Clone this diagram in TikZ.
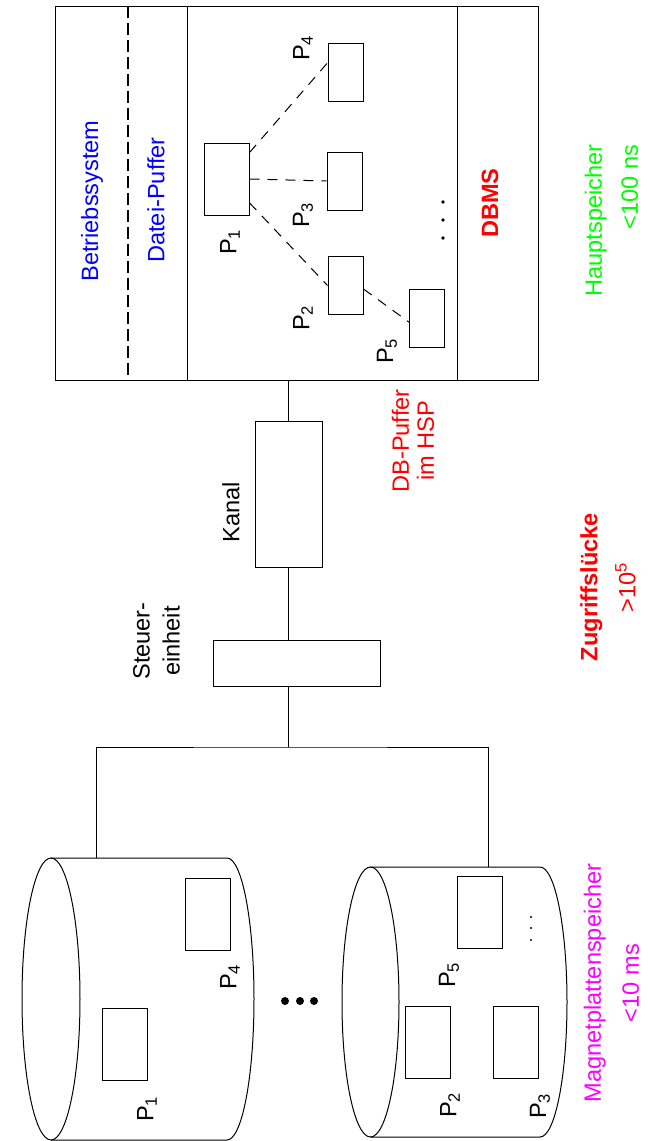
\documentclass[tikz,border=0pt]{standalone}
\usepackage{fontspec}
\setmainfont{Liberation Sans}
\definecolor{hspgreen}{RGB}{0,255,0}
\definecolor{mpsmagenta}{RGB}{255,0,255}

\begin{document}
\begin{tikzpicture}[x=0.5pt,y=-0.5pt,line width=0.5pt]
  \tikzstyle{page}=[draw,inner sep=0pt,minimum width=17.5pt,minimum height=29pt]
  \tikzstyle{bigpage}=[page,minimum width=22.5pt,minimum height=36pt]
  \tikzstyle{lbl}=[rotate=90,inner sep=0pt,font=\fontsize{11.8}{14}\selectfont]
  \tikzstyle{link}=[dash pattern=on 5pt off 4pt]
  \useasboundingbox (0,0) rectangle (648,1141);

  % Hauptspeicher
  \node[draw,inner sep=0pt,minimum width=241.5pt,minimum height=187pt] (hsp) at (296.5,193) {};
  \draw[dash pattern=on 6pt off 2.5pt,line width=0.8pt] (128,0 |- hsp.north) -- (128,0 |- hsp.south);
  \draw (187,0 |- hsp.north) -- (187,0 |- hsp.south);
  \draw (457,0 |- hsp.north) -- (457,0 |- hsp.south);

  \node[lbl,text=blue] (bs) at (92,201) {Betriebssystem};
  \node[lbl,text=blue] (dp) at (156,200) {Datei-Puffer};
  \node[lbl,text=red,font=\fontsize{11.8}{14}\selectfont\bfseries] (dbms) at (490,203) {DBMS};

  \node[bigpage] (P1) at (226.5,179) {};
  \node[page] (P4) at (345.5,72) {};
  \node[page] (P3) at (344.5,181) {};
  \node[page] (P2) at (345.5,285.5) {};
  \node[page] (P5) at (427,318) {};

  \node[lbl] (lP1) at (230,242) {P\textsubscript{1}};
  \node[lbl] (lP4) at (303,48) {P\textsubscript{4}};
  \node[lbl] (lP3) at (303,215) {P\textsubscript{3}};
  \node[lbl] (lP2) at (303,318) {P\textsubscript{2}};
  \node[lbl] (lP5) at (387,351) {P\textsubscript{5}};

  \draw[link] (P1.49) -- (P4.153);
  \draw[link] (P1.east) -- (P3.west);
  \draw[link] (P1.-46) -- (P2.west);
  \draw[link] (P2.-11) -- (P5.193);

  \fill (443,202) circle[radius=1.8];
  \fill (443,220) circle[radius=1.8];
  \fill (443,238) circle[radius=1.8];

  \node[lbl,text=hspgreen,align=right,anchor=east,font=\fontsize{11.8}{18}\selectfont] (hs) at (611.5,144) {Hauptspeicher\\<100 ns};

  % Kanal und Steuereinheit
  \node[draw,inner sep=0pt,minimum width=33.5pt,minimum height=73pt] (kanal) at (288.5,494) {};
  \node[draw,inner sep=0pt,minimum width=83.5pt,minimum height=23pt] (steuer) at (296.5,663) {};
  \node[lbl] (kl) at (231,512) {Kanal};
  \node[lbl,align=center,font=\fontsize{11.8}{15}\selectfont] (st) at (156.5,641) {Steuer-\\einheit};
  \node[lbl,text=red,align=center,font=\fontsize{11.8}{12.5}\selectfont] (dbp) at (413,441) {DB-Puffer\\im HSP};
  \node[lbl,text=red,align=center,font=\fontsize{11.8}{19}\selectfont] (zl) at (608,587) {\textbf{Zugriffslücke}\\>10\textsuperscript{5}};

  \draw (hsp.south -| kanal.north) -- (kanal.north);
  \draw (kanal.south) -- (kanal.south |- steuer.north);
  \coordinate (bus) at (288.5,747);
  \draw (kanal.south |- steuer.south) -- (bus);

  % Magnetplatten
  \coordinate (d1) at (96,858);
  \coordinate (d2) at (488,867);
  \draw (d1) |- (bus) -| (d2);

  \draw (51,858) -- (227,858) arc[start angle=-90,end angle=90,x radius=27,y radius=141] -- (51,1140);
  \draw (51,999) ellipse[x radius=29,y radius=141];
  \draw (370.5,867) -- (540,867) arc[start angle=-90,end angle=90,x radius=27,y radius=135] -- (370.5,1137);
  \draw (370.5,1002) ellipse[x radius=28.5,y radius=135];

  \node[bigpage] (D1) at (124.5,1044) {};
  \node[bigpage] (D4) at (207.5,914) {};
  \node[bigpage] (D5) at (479.5,912) {};
  \node[bigpage] (D2) at (428,1042) {};
  \node[bigpage] (D3) at (515.5,1042.5) {};

  \node[lbl] (lD1) at (147,1109) {P\textsubscript{1}};
  \node[lbl] (lD4) at (230,977) {P\textsubscript{4}};
  \node[lbl] (lD5) at (449,975) {P\textsubscript{5}};
  \node[lbl] (lD2) at (450,1105) {P\textsubscript{2}};
  \node[lbl] (lD3) at (540,1106) {P\textsubscript{3}};

  \fill (285,1001) circle[radius=4];
  \fill (300,1001) circle[radius=4];
  \fill (314,1001) circle[radius=4];
  \fill (531,917) circle[radius=1.1];
  \fill (531,928) circle[radius=1.1];
  \fill (531,940) circle[radius=1.1];

  \node[lbl,text=mpsmagenta,align=center,font=\fontsize{11.8}{19}\selectfont] (mps) at (611.5,983) {Magnetplattenspeicher\\<10 ms};
\end{tikzpicture}
\end{document}
